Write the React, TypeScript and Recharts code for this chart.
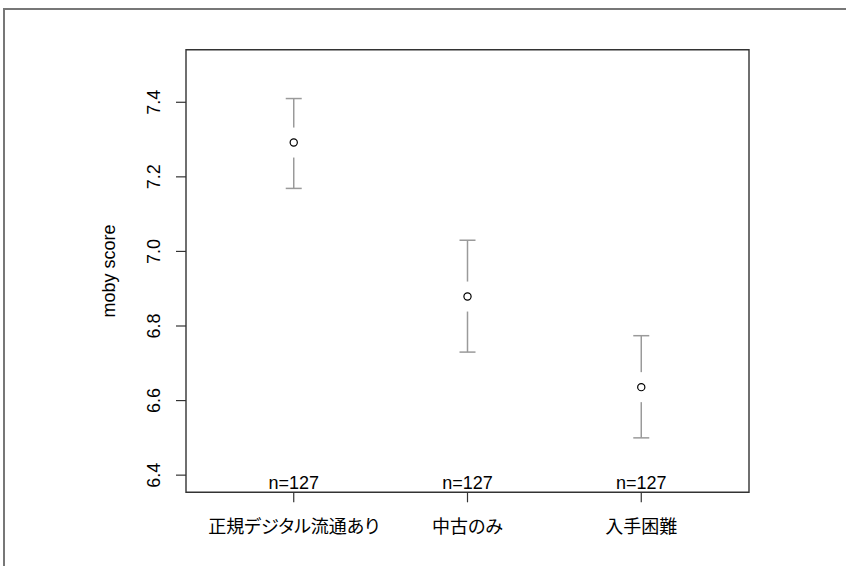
import React from "react";
import { ComposedChart, Scatter, XAxis, YAxis, ErrorBar, ReferenceArea } from "recharts";

// group means with their confidence limits
const groups = ["正規デジタル流通あり", "中古のみ", "入手困難"];
const means = [7.292, 6.879, 6.636];
const upper = [7.41, 7.03, 6.774];
const lower = [7.169, 6.73, 6.5];
const counts = [127, 127, 127];

const yTicks = [6.4, 6.6, 6.8, 7.0, 7.2, 7.4];
const yDomain: [number, number] = [6.354, 7.541];
const xDomain: [number, number] = [0.38, 3.62];
const xTicks = [1, 2, 3];

const LATIN = "'Liberation Sans', Arial, Helvetica, sans-serif";
const CJK = "'Noto Sans CJK JP', 'Liberation Sans', sans-serif";
const AXIS = "#333";
const BAR = "#9a9a9a";

const points = groups.map((g, i) => ({
  x: i + 1,
  y: means[i],
  err: [means[i] - lower[i], upper[i] - means[i]],
}));

const nLabels = groups.map((g, i) => ({ x: i + 1, y: yDomain[0], n: counts[i] }));

// open circle with a white gap cut out of the whisker
const MeanShape = (p: any) => (
  <g>
    <rect x={p.cx - 3} y={p.cy - 15} width={6} height={30} fill="#fff" />
    <circle cx={p.cx} cy={p.cy} r={3.6} fill="none" stroke="#000" strokeWidth={1.2} />
  </g>
);

const Empty = () => <g />;

const CountLabel = (p: any) => (
  <text x={p.cx} y={p.cy - 3.5} textAnchor="middle" fontSize={18} fontFamily={LATIN} fill="#000">
    n={p.payload.n}
  </text>
);

const YTick = (p: any) => (
  <text
    x={p.x - 14}
    y={p.y}
    transform={`rotate(-90, ${p.x - 14}, ${p.y})`}
    textAnchor="middle"
    fontSize={18}
    fontFamily={LATIN}
    fill="#000"
  >
    {Number(p.payload.value).toFixed(1)}
  </text>
);

const XTick = (p: any) => (
  <text
    x={p.x}
    y={p.y + 29}
    textAnchor="middle"
    fontSize={18}
    fontFamily={CJK}
    style={{ fontFeatureSettings: "'palt'" }}
    fill="#000"
  >
    {groups[p.payload.value - 1]}
  </text>
);

const YLabel = (p: any) => {
  const vb = p.viewBox;
  const x = vb.x - 11;
  const y = vb.y + vb.height / 2;
  return (
    <text x={x} y={y} transform={`rotate(-90, ${x}, ${y})`} textAnchor="middle" fontSize={18} fontFamily={LATIN} fill="#000">
      moby score
    </text>
  );
};

export default function App() {
  return (
    <div style={{ position: "absolute", left: 0, top: 0, width: 846, height: 566, background: "#fff", overflow: "hidden" }}>
      {/* outer device frame */}
      <div
        style={{
          position: "absolute",
          left: 3,
          top: 8,
          width: 900,
          height: 700,
          borderLeft: "2px solid #777",
          borderTop: "2px solid #777",
        }}
      />
      <div style={{ position: "absolute", left: 0, top: 0 }}>
        <ComposedChart width={846} height={566} margin={{ top: 49.7, right: 97, bottom: 43.7, left: 126 }}>
          <XAxis
            type="number"
            dataKey="x"
            domain={xDomain}
            ticks={xTicks}
            allowDataOverflow
            axisLine={false}
            tickSize={10}
            tickLine={{ stroke: AXIS, strokeWidth: 1.2 }}
            tick={<XTick />}
            height={30}
          />
          <YAxis
            type="number"
            dataKey="y"
            domain={yDomain}
            ticks={yTicks}
            allowDataOverflow
            axisLine={false}
            tickSize={10}
            tickLine={{ stroke: AXIS, strokeWidth: 1.2 }}
            tick={<YTick />}
            width={60}
            label={<YLabel />}
          />
          <ReferenceArea
            x1={xDomain[0]}
            x2={xDomain[1]}
            y1={yDomain[0]}
            y2={yDomain[1]}
            fill="none"
            stroke={AXIS}
            strokeWidth={1.4}
            ifOverflow="visible"
          />
          <Scatter data={points} shape={<Empty />} isAnimationActive={false}>
            <ErrorBar dataKey="err" direction="y" width={8} stroke={BAR} strokeWidth={1.5} isAnimationActive={false} />
          </Scatter>
          <Scatter data={points} shape={<MeanShape />} isAnimationActive={false} />
          <Scatter data={nLabels} shape={<CountLabel />} isAnimationActive={false} />
        </ComposedChart>
      </div>
    </div>
  );
}
